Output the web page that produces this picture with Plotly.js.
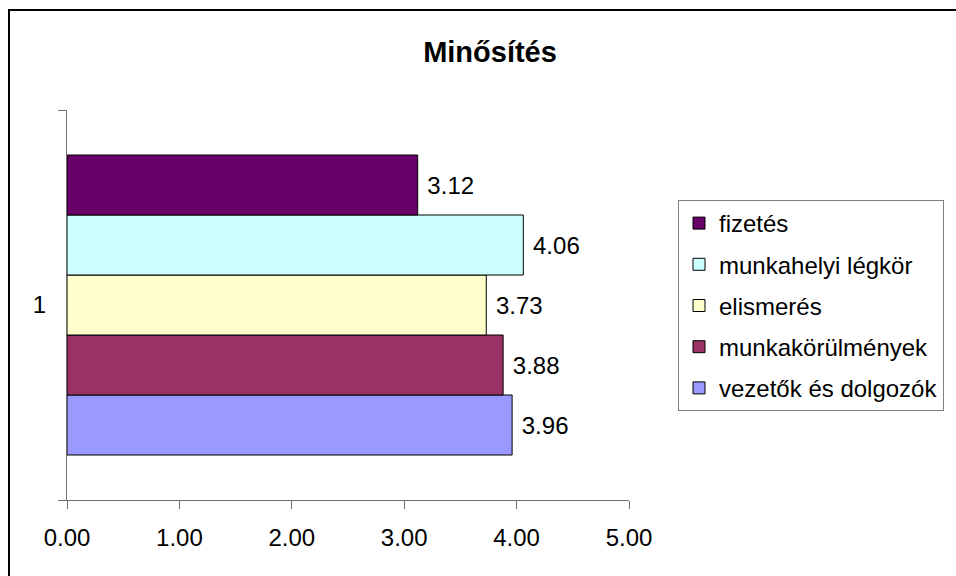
<!DOCTYPE html>
<html>
<head>
<meta charset="utf-8">
<script src="https://cdn.plot.ly/plotly-3.0.1.min.js"></script>
<style>
  html, body { margin: 0; padding: 0; background: #fff; }
  #chart { width: 956px; height: 576px; position: absolute; left: 0; top: 0; }
  #frame { position: absolute; left: 8px; top: 9px; width: 1000px; height: 700px;
           border-left: 2.5px solid #000; border-top: 2.5px solid #000; pointer-events: none; }
</style>
</head>
<body>
<div id="chart"></div>
<div id="frame"></div>
<script>
// Data (series listed bottom-to-top as in the Excel bar chart)
const categories = ['1'];
const seriesNames = ['vezetők és dolgozók', 'munkakörülmények', 'elismerés', 'munkahelyi légkör', 'fizetés'];
const seriesValues = [3.96, 3.88, 3.73, 4.06, 3.12];
const seriesColors = ['#9999FF', '#993366', '#FFFFCC', '#CCFFFF', '#660066'];
const xTickVals = [0, 1, 2, 3, 4, 5];
const xTickText = ['0.00', '1.00', '2.00', '3.00', '4.00', '5.00'];
const chartTitle = 'Minősítés';

const FONT = 'Liberation Sans, Arial, sans-serif';

const traces = seriesNames.map((name, i) => ({
  type: 'bar',
  orientation: 'h',
  name: name,
  legendgroup: 'g' + i,
  legendrank: seriesNames.length - i,
  y: categories,
  x: [seriesValues[i]],
  text: ['\u00a0' + seriesValues[i].toFixed(2)],
  textposition: 'outside',
  cliponaxis: false,
  textfont: { family: FONT, size: 24, color: '#000' },
  marker: { color: seriesColors[i], line: { color: '#000', width: 1 } },
  hoverinfo: 'name+x'
}));

const layout = {
  width: 956,
  height: 576,
  paper_bgcolor: '#fff',
  plot_bgcolor: '#fff',
  font: { family: FONT, size: 24, color: '#000' },
  margin: { l: 67, r: 327, t: 110, b: 76, pad: 0 },
  title: {
    text: '<b>' + chartTitle + '</b>',
    font: { family: FONT, size: 29, color: '#000' },
    x: 490 / 956, xref: 'container', xanchor: 'center',
    y: 1 - 52 / 576, yref: 'container', yanchor: 'middle'
  },
  barmode: 'group',
  bargap: 1.5 / 6.5,
  bargroupgap: 0,
  xaxis: {
    range: [0, 5],
    tickvals: xTickVals,
    ticktext: xTickText,
    showgrid: false,
    zeroline: false,
    showline: true,
    linecolor: '#707070',
    linewidth: 1,
    ticks: 'outside',
    ticklen: 8,
    tickcolor: '#707070',
    ticklabelstandoff: 8,
    tickfont: { family: FONT, size: 24, color: '#000' },
    fixedrange: true
  },
  yaxis: {
    type: 'category',
    showgrid: false,
    zeroline: false,
    showline: true,
    linecolor: '#707070',
    linewidth: 1,
    ticks: 'outside',
    tickson: 'boundaries',
    ticklen: 8,
    tickcolor: '#707070',
    ticklabelstandoff: 15,
    tickfont: { family: FONT, size: 24, color: '#000' },
    fixedrange: true
  },
  showlegend: true,
  legend: {
    x: (678 - 67) / 562,
    xanchor: 'left',
    y: (500 - 200) / 390,
    yanchor: 'top',
    traceorder: 'grouped',
    tracegroupgap: 7,
    bordercolor: '#808080',
    borderwidth: 1,
    bgcolor: '#fff',
    font: { family: FONT, size: 24, color: '#000' }
  }
};

Plotly.newPlot('chart', traces, layout, { displayModeBar: false, staticPlot: true });
</script>
</body>
</html>
